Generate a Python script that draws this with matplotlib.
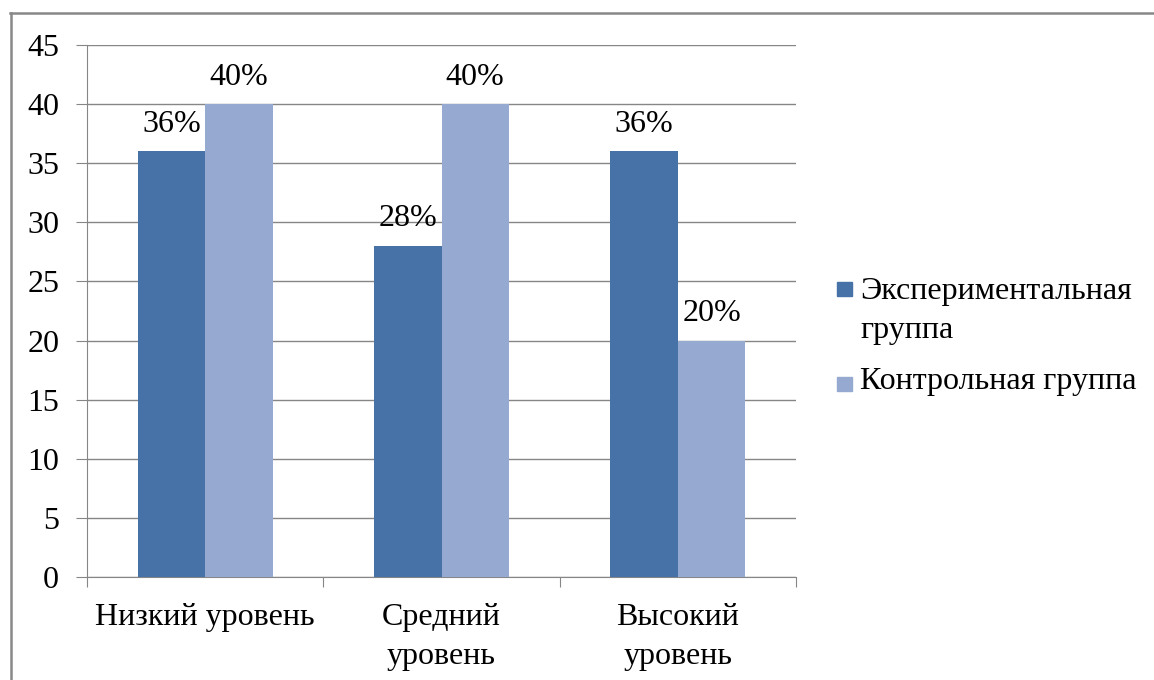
import matplotlib
matplotlib.use('Agg')
import matplotlib.pyplot as plt
from matplotlib.patches import Rectangle
from matplotlib.lines import Line2D
import numpy as np

categories = ["Низкий уровень", "Средний\nуровень", "Высокий\nуровень"]
series_names = ["Экспериментальная\nгруппа", "Контрольная группа"]
exp_values = [36, 28, 36]
ctrl_values = [40, 40, 20]
colors = ["#4672A8", "#95A9D1"]

plt.rcParams['font.family'] = ['Liberation Serif', 'DejaVu Serif']
FS = 23

fig = plt.figure(figsize=(11.54, 6.8), dpi=100)
W, H = 1154, 680
ax = fig.add_axes([87 / W, 1 - 577 / H, (796 - 87) / W, (577 - 45) / H])

x = np.arange(len(categories))
bw = 0.285
b1 = ax.bar(x - bw / 2, exp_values, bw, color=colors[0], zorder=3)
b2 = ax.bar(x + bw / 2, ctrl_values, bw, color=colors[1], zorder=3)

for bars, vals in ((b1, exp_values), (b2, ctrl_values)):
    for b, v in zip(bars, vals):
        ax.annotate(f"{v}%", (b.get_x() + b.get_width() / 2, v),
                    xytext=(0, 9), textcoords='offset points',
                    ha='center', va='bottom', fontsize=FS)

ax.set_xlim(-0.5, len(categories) - 0.5)
ax.set_ylim(0, 45)
ax.set_yticks(range(0, 46, 5))
ax.yaxis.grid(True, color='#868686', linewidth=1)
ax.set_axisbelow(True)

for s in ('top', 'right'):
    ax.spines[s].set_visible(False)
ax.spines['left'].set_color('#868686')
ax.spines['bottom'].set_color('#868686')

ax.tick_params(axis='y', length=8, color='#868686', labelsize=FS, pad=12)
ax.set_xticks(np.arange(-0.5, len(categories), 1))
ax.set_xticklabels([])
ax.tick_params(axis='x', length=7, color='#868686', direction='out')
ax.set_xticks(x, minor=True)
ax.set_xticklabels(categories, minor=True, fontsize=FS, linespacing=1.45)
ax.tick_params(axis='x', which='minor', length=0, pad=19)

# legend drawn by hand so the marker sits on the first text line
leg_y = [289, 384]
text_shift = [-12, -17]
for name, c, yy, ds in zip(series_names, colors, leg_y, text_shift):
    fig.patches.append(Rectangle((837 / W, 1 - (yy + 7) / H), 15 / W, 14 / H,
                                 transform=fig.transFigure, color=c))
    fig.text(860 / W, 1 - (yy + ds) / H, name, fontsize=FS, va='top',
             ha='left', linespacing=1.45)

# outer frame of the chart object
fig.add_artist(Line2D([10.5 / W, 10.5 / W], [1 - 13 / H, 0], color='#888888',
                      linewidth=1.8, transform=fig.transFigure))
fig.add_artist(Line2D([10 / W, 1], [1 - 13 / H, 1 - 13 / H], color='#888888',
                      linewidth=1.8, transform=fig.transFigure))

plt.savefig("out.png", dpi=100)
plt.close()
